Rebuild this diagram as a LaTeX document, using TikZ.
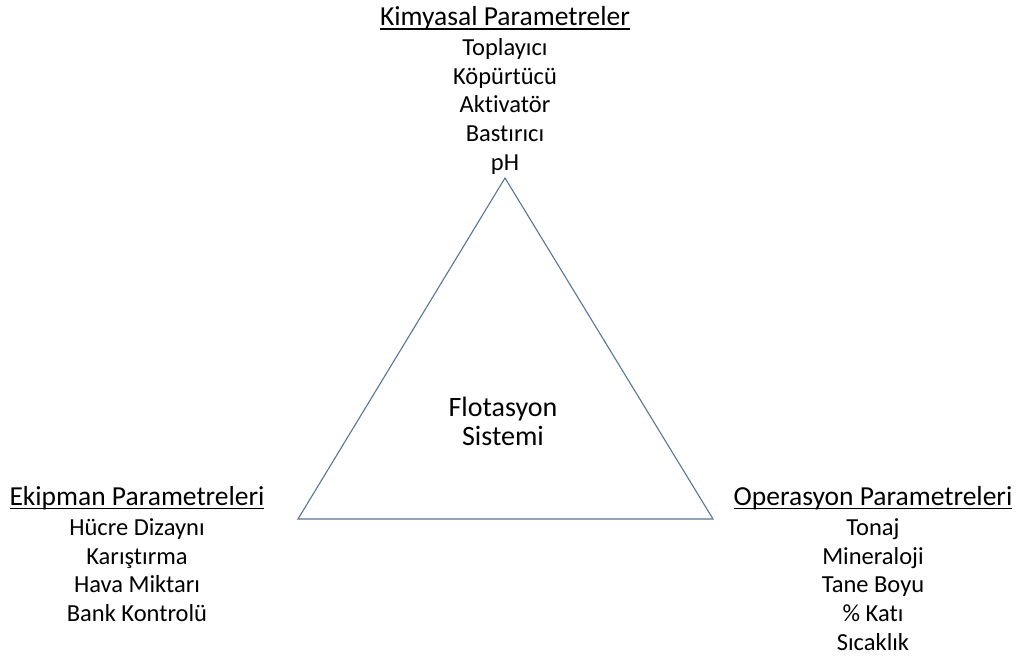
\documentclass[tikz,border=0pt]{standalone}
\usepackage{fontspec}
\setmainfont[Ligatures=NoCommon]{Carlito}
\definecolor{triline}{RGB}{88,118,152}
\newcommand\myul[1]{\setbox0\hbox{#1}\rlap{\rule[-4pt]{\wd0}{1.6pt}}\box0}
\newcommand\ttl[1]{{\fontsize{27.5}{28.7}\selectfont\myul{#1}}}
\begin{document}
\begin{tikzpicture}[x=1pt,y=-1pt,
  lbl/.style={inner sep=0pt, align=center, font=\fontsize{24.5}{28.7}\selectfont, text=black},
  ctr/.style={inner sep=0pt, align=center, font=\fontsize{28}{29}\selectfont, text=black},
  tri/.style={draw=triline, line width=1.1pt, line join=miter}]
\useasboundingbox (0,0) rectangle (1019,659);
\fill[white] (0,0) rectangle (1019,659);
\coordinate (apex) at (505,178);
\coordinate (bl) at (298,519);
\coordinate (br) at (713,519);
\draw[tri] (apex) -- (bl) -- (br) -- cycle;
\node[lbl, anchor=north] (kim) at (505,6.5) {\ttl{Kimyasal Parametreler}\\[1pt]Toplayıcı\\Köpürtücü\\Aktivatör\\Bastırıcı\\pH};
\node[lbl, anchor=north] (eki) at (137,486) {\ttl{Ekipman Parametreleri}\\[1.5pt]Hücre Dizaynı\\Karıştırma\\Hava Miktarı\\Bank Kontrolü};
\node[lbl, anchor=north] (ope) at (873,486) {\ttl{Operasyon Parametreleri}\\[1.5pt]Tonaj\\Mineraloji\\Tane Boyu\\\% Katı\\Sıcaklık};
\node[ctr, anchor=north] (flo) at (503,397) {Flotasyon\\Sistemi};
\end{tikzpicture}
\end{document}
